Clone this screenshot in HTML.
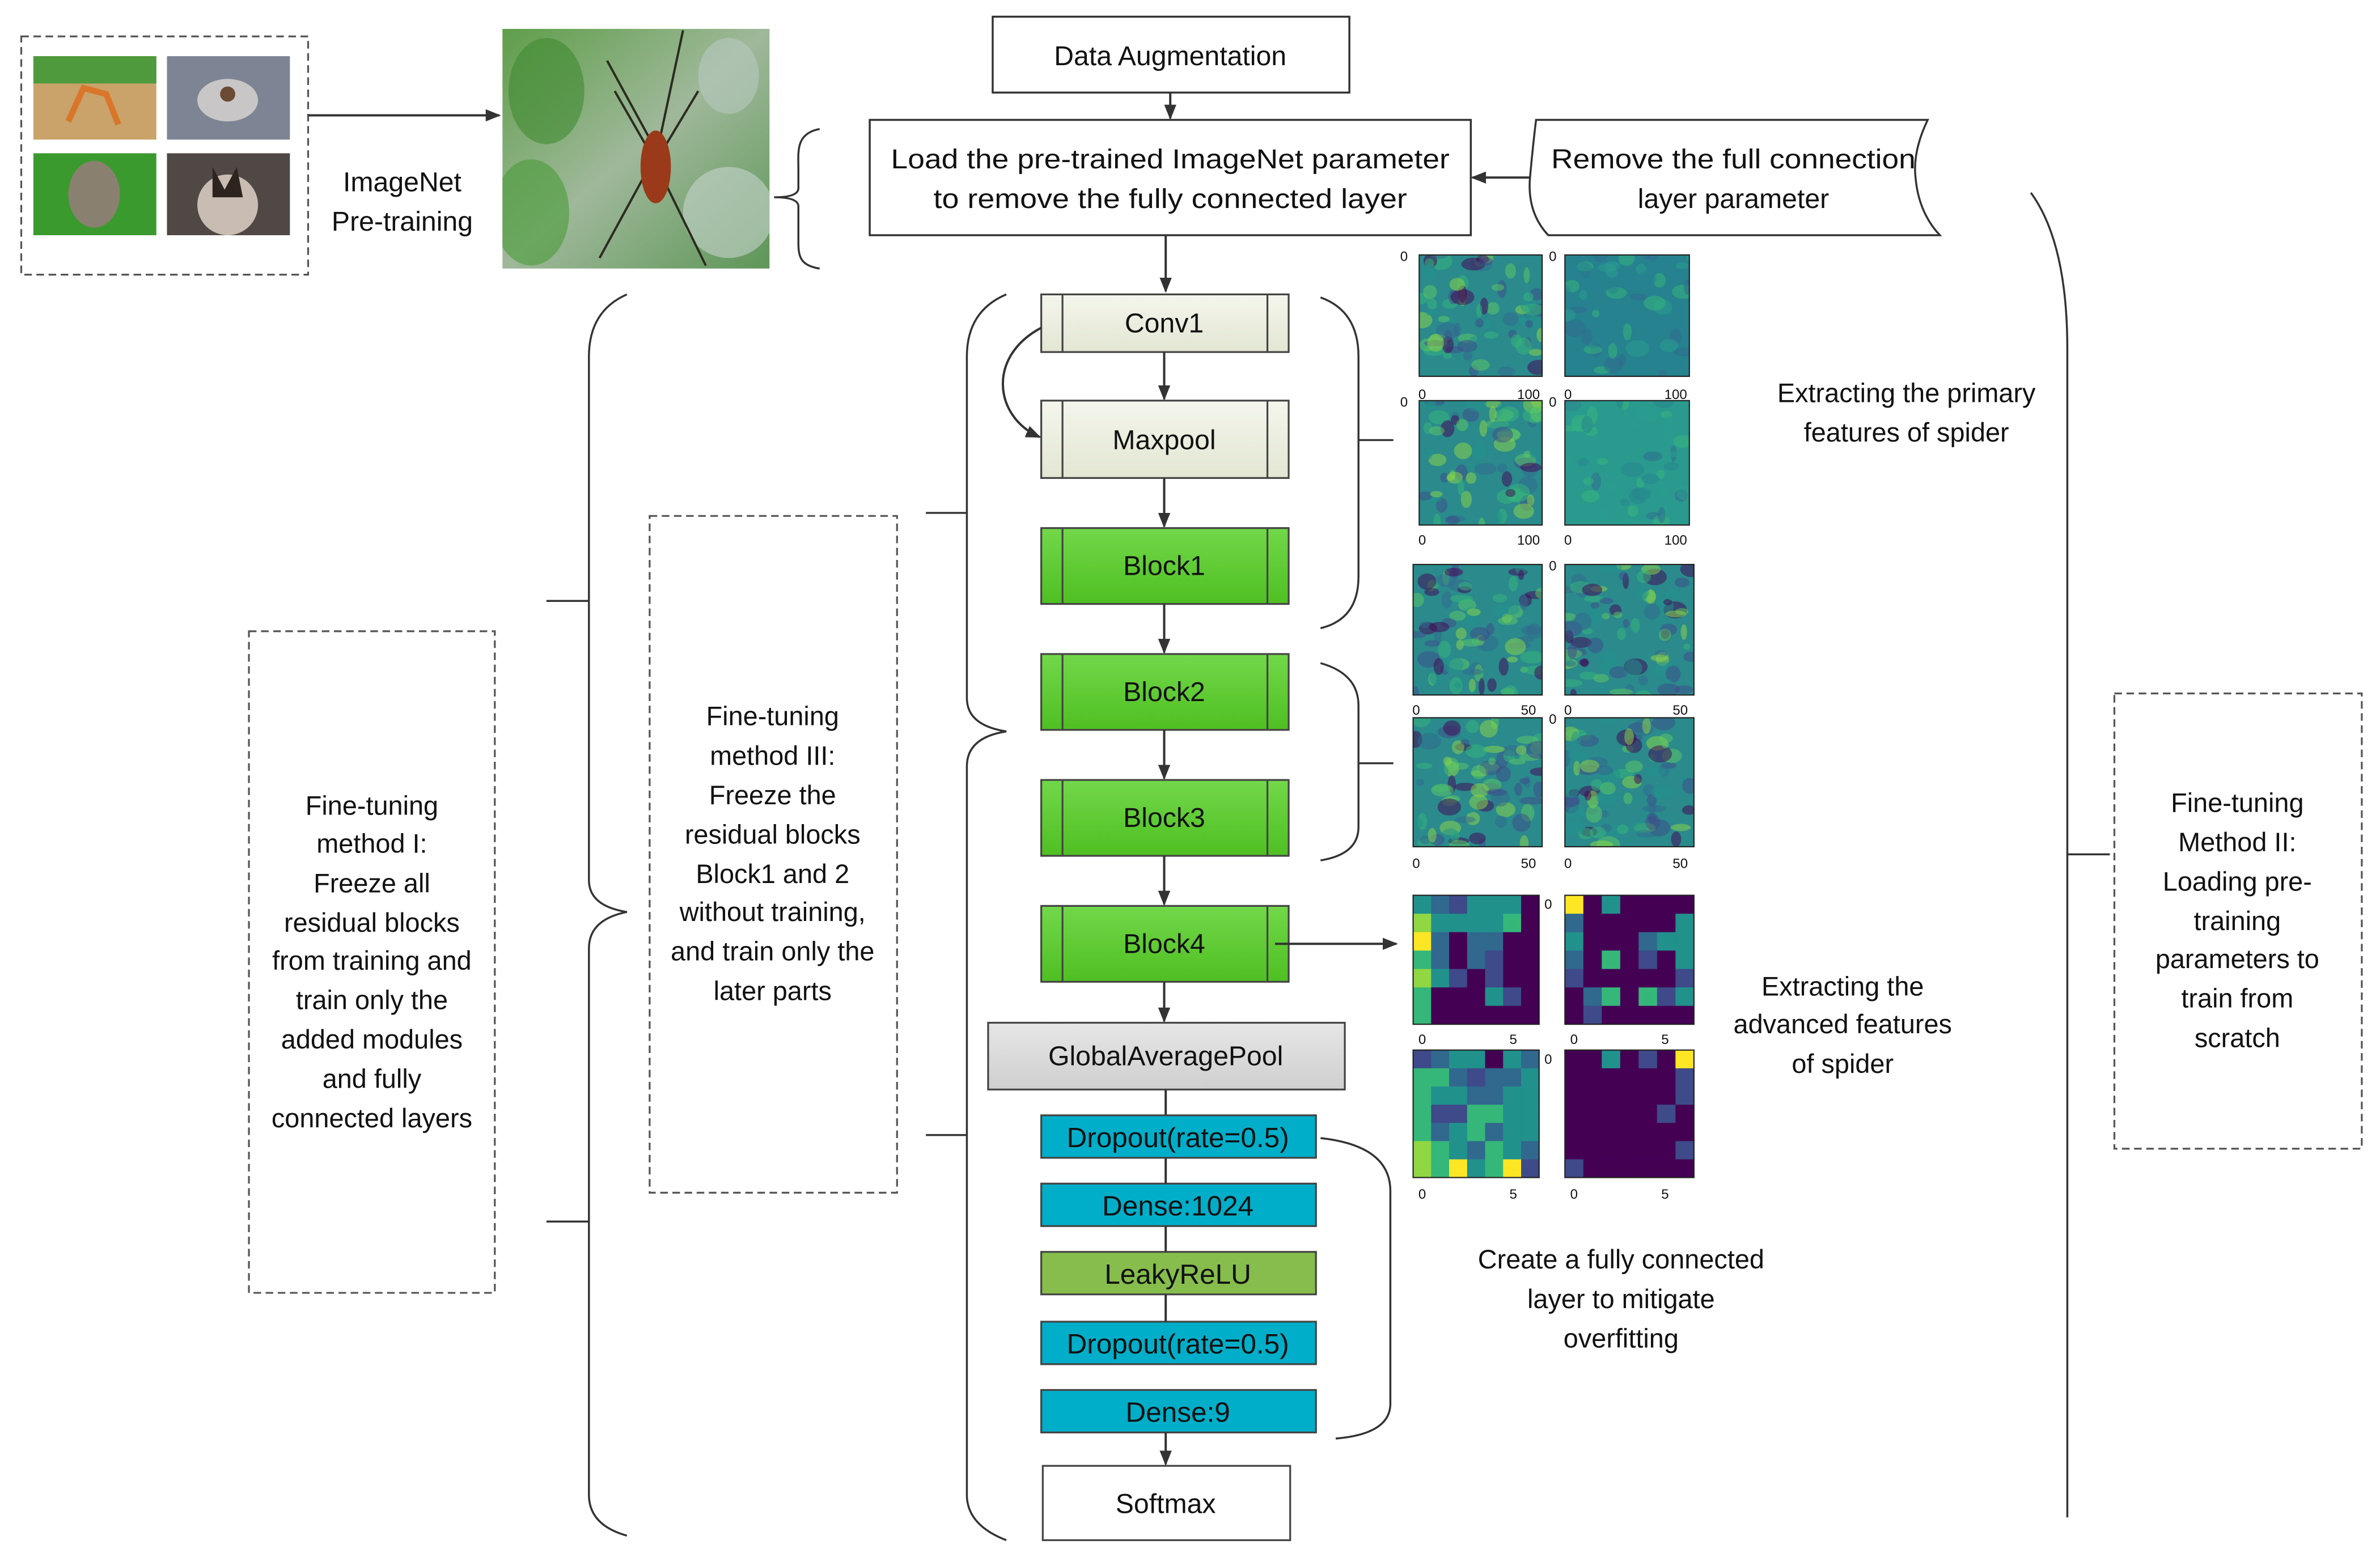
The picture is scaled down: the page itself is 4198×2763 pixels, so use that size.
<!DOCTYPE html>
<html><head><meta charset="utf-8"><style>
html,body{margin:0;padding:0;background:#fff;width:4198px;height:2763px;overflow:hidden}
svg{display:block}
text{font-family:"Liberation Sans",sans-serif;fill:#111}
</style></head><body>
<svg id="s" width="4198" height="2763" viewBox="0 0 1568 1032" xmlns="http://www.w3.org/2000/svg">
<defs>
<marker id="ah" markerWidth="10" markerHeight="10" refX="9" refY="5" orient="auto" markerUnits="userSpaceOnUse"><path d="M0,1 L10,5 L0,9 Z" fill="#333"/></marker>
<linearGradient id="gl" x1="0" y1="0" x2="0" y2="1"><stop offset="0" stop-color="#f4f6ec"/><stop offset="1" stop-color="#e2e6d2"/></linearGradient>
<linearGradient id="gg" x1="0" y1="0" x2="0" y2="1"><stop offset="0" stop-color="#72d84a"/><stop offset="1" stop-color="#4fbf22"/></linearGradient>
<linearGradient id="gy" x1="0" y1="0" x2="0" y2="1"><stop offset="0" stop-color="#e6e6e6"/><stop offset="1" stop-color="#cfcfcf"/></linearGradient>
<linearGradient id="sp" x1="0" y1="0" x2="1" y2="1"><stop offset="0" stop-color="#5f9e4a"/><stop offset="0.5" stop-color="#9fb89a"/><stop offset="1" stop-color="#5e9658"/></linearGradient>
<clipPath id="spc"><rect x="331" y="19" width="176" height="158"/></clipPath>
</defs>
<g fill="none" stroke="#333" stroke-width="1.2">
<rect x="14" y="24" width="189" height="157" stroke-dasharray="5,3" stroke="#555"/>
</g>
<rect x="22" y="37" width="81" height="55" fill="#c9a36a"/><rect x="22" y="37" width="81" height="18" fill="#4f9a3c"/>
<path d="M45,80 L55,58 L70,62 L78,82" stroke="#d9762a" stroke-width="4" fill="none"/>
<rect x="110" y="37" width="81" height="55" fill="#7d8595"/><ellipse cx="150" cy="66" rx="20" ry="14" fill="#c9c6c7"/><circle cx="150" cy="62" r="5" fill="#6b4a36"/>
<rect x="22" y="101" width="81" height="54" fill="#3a9a2e"/><ellipse cx="62" cy="128" rx="17" ry="22" fill="#8a8070"/>
<rect x="110" y="101" width="81" height="54" fill="#4f4845"/><ellipse cx="150" cy="135" rx="20" ry="20" fill="#c9bdb3"/><path d="M140,110 L148,125 L156,110 L160,130 L140,130 Z" fill="#2e241f"/>
<line x1="203" y1="76" x2="329" y2="76" stroke="#333" stroke-width="1.5" marker-end="url(#ah)"/>
<text x="265" y="126" font-size="18" text-anchor="middle">ImageNet</text>
<text x="265" y="152" font-size="18" text-anchor="middle">Pre-training</text>
<g clip-path="url(#spc)">
<rect x="331" y="19" width="176" height="158" fill="url(#sp)"/>
<ellipse cx="360" cy="60" rx="25" ry="35" fill="#3f8a30" opacity="0.6"/><ellipse cx="480" cy="140" rx="30" ry="30" fill="#c7d3cd" opacity="0.6"/><ellipse cx="350" cy="140" rx="25" ry="35" fill="#4a9b38" opacity="0.6"/><ellipse cx="480" cy="50" rx="20" ry="25" fill="#b8c9bf" opacity="0.6"/>
</g>
<g stroke="#2b2b20" stroke-width="1.5" fill="none"><path d="M430,95 L400,40"/><path d="M434,95 L450,20"/><path d="M425,115 L395,170"/><path d="M438,120 L465,175"/><path d="M428,100 L405,60"/><path d="M436,100 L460,60"/></g>
<ellipse cx="432" cy="110" rx="10" ry="24" fill="#9a3a1a"/>
<path d="M540,85 C524,88 526,100 526,112 L526,124 Q526,130 510,130 Q526,130 526,136 L526,160 C526,170 528,175 540,177" fill="none" stroke="#333" stroke-width="1.3"/>
<rect x="654" y="11" width="235" height="50" fill="#fff" stroke="#333" stroke-width="1.3"/>
<text x="771" y="43" font-size="18" text-anchor="middle">Data Augmentation</text>
<line x1="771" y1="61" x2="771" y2="78" stroke="#333" stroke-width="1.5" marker-end="url(#ah)"/>
<rect x="573" y="79" width="396" height="76" fill="#fff" stroke="#333" stroke-width="1.3"/>
<text x="771" y="111" font-size="18" text-anchor="middle" textLength="368" lengthAdjust="spacingAndGlyphs">Load the pre-trained ImageNet parameter</text>
<text x="771" y="137" font-size="18" text-anchor="middle" textLength="312" lengthAdjust="spacingAndGlyphs">to remove the fully connected layer</text>
<path d="M1012,79 L1270,79 Q1260,100 1262,117 Q1264,140 1278,155 L1020,155 Q1006,140 1008,117 Q1010,95 1012,79 Z" fill="#fff" stroke="#333" stroke-width="1.3"/>
<text x="1142" y="111" font-size="18" text-anchor="middle" textLength="240" lengthAdjust="spacingAndGlyphs">Remove the full connection</text>
<text x="1142" y="137" font-size="18" text-anchor="middle">layer parameter</text>
<line x1="1008" y1="117" x2="970" y2="117" stroke="#333" stroke-width="1.5" marker-end="url(#ah)"/>
<line x1="768" y1="155" x2="768" y2="192" stroke="#333" stroke-width="1.5" marker-end="url(#ah)"/>
<g stroke="#444" stroke-width="1.2">
<rect x="686" y="194" width="163" height="38" fill="url(#gl)"/>
<rect x="686" y="264" width="163" height="51" fill="url(#gl)"/>
<rect x="686" y="348" width="163" height="50" fill="url(#gg)"/>
<rect x="686" y="431" width="163" height="50" fill="url(#gg)"/>
<rect x="686" y="514" width="163" height="50" fill="url(#gg)"/>
<rect x="686" y="597" width="163" height="50" fill="url(#gg)"/>
<path d="M700,194v38M835,194v38M700,264v51M835,264v51M700,348v50M835,348v50M700,431v50M835,431v50M700,514v50M835,514v50M700,597v50M835,597v50" fill="none"/>
<rect x="651" y="674" width="235" height="44" fill="url(#gy)"/>
<rect x="686" y="735" width="181" height="28" fill="#00aec9"/>
<rect x="686" y="780" width="181" height="28" fill="#00aec9"/>
<rect x="686" y="825" width="181" height="28" fill="#86bd4c"/>
<rect x="686" y="871" width="181" height="28" fill="#00aec9"/>
<rect x="686" y="916" width="181" height="28" fill="#00aec9"/>
<rect x="687" y="966" width="163" height="49" fill="#fff"/>
</g>
<g font-size="18" text-anchor="middle">
<text x="767" y="219">Conv1</text>
<text x="767" y="296">Maxpool</text>
<text x="767" y="379">Block1</text>
<text x="767" y="462">Block2</text>
<text x="767" y="545">Block3</text>
<text x="767" y="628">Block4</text>
<text x="768" y="702">GlobalAveragePool</text>
<text x="776" y="756" font-size="18.5">Dropout(rate=0.5)</text>
<text x="776" y="801" font-size="18.5">Dense:1024</text>
<text x="776" y="846" font-size="18.5">LeakyReLU</text>
<text x="776" y="892" font-size="18.5">Dropout(rate=0.5)</text>
<text x="776" y="937" font-size="18.5">Dense:9</text>
<text x="768" y="997">Softmax</text>
</g>
<g stroke="#333" stroke-width="1.5" fill="none">
<line x1="767" y1="232" x2="767" y2="263" marker-end="url(#ah)"/>
<line x1="767" y1="315" x2="767" y2="347" marker-end="url(#ah)"/>
<line x1="767" y1="398" x2="767" y2="430" marker-end="url(#ah)"/>
<line x1="767" y1="481" x2="767" y2="513" marker-end="url(#ah)"/>
<line x1="767" y1="564" x2="767" y2="596" marker-end="url(#ah)"/>
<line x1="767" y1="647" x2="767" y2="673" marker-end="url(#ah)"/>
<line x1="768" y1="718" x2="768" y2="735"/>
<line x1="768" y1="763" x2="768" y2="780"/>
<line x1="768" y1="808" x2="768" y2="825"/>
<line x1="768" y1="853" x2="768" y2="871"/>
<line x1="768" y1="944" x2="768" y2="965" marker-end="url(#ah)"/>
<path d="M686,216 C650,235 655,275 685,288" marker-end="url(#ah)"/>
<line x1="840" y1="622" x2="920" y2="622" marker-end="url(#ah)"/>
</g>
<g stroke="#333" stroke-width="1.3" fill="none">
<path d="M870,196 Q895,205 895,235 L895,380 Q895,408 870,414"/><line x1="895" y1="290" x2="918" y2="290"/>
<path d="M870,437 Q895,444 895,465 L895,545 Q895,563 870,567"/><line x1="895" y1="503" x2="918" y2="503"/>
<path d="M870,750 Q916,755 916,785 L916,925 Q916,945 880,948"/>
<path d="M663,194 Q637,205 637,235 L637,460 Q637,478 663,482 Q637,486 637,505 L637,985 Q637,1005 663,1015"/>
<line x1="610" y1="338" x2="637" y2="338"/><line x1="610" y1="748" x2="637" y2="748"/>
<path d="M413,194 Q388,205 388,235 L388,580 Q388,597 413,601 Q388,606 388,625 L388,985 Q388,1005 413,1012"/>
<line x1="360" y1="396" x2="388" y2="396"/><line x1="360" y1="805" x2="388" y2="805"/>
<path d="M1338,127 Q1362,160 1362,230 L1362,1000"/>
<line x1="1362" y1="563" x2="1390" y2="563"/>
</g>
<g fill="none" stroke="#555" stroke-width="1.2" stroke-dasharray="5,3">
<rect x="164" y="416" width="162" height="436"/>
<rect x="428" y="340" width="163" height="446"/>
<rect x="1393" y="457" width="163" height="300"/>
</g>
<g font-size="17.5" text-anchor="middle">
<text x="245" y="537">Fine-tuning</text><text x="245" y="562">method I:</text><text x="245" y="588">Freeze all</text><text x="245" y="614">residual blocks</text><text x="245" y="639">from training and</text><text x="245" y="665">train only the</text><text x="245" y="691">added modules</text><text x="245" y="717">and fully</text><text x="245" y="743">connected layers</text>
<text x="509" y="478">Fine-tuning</text><text x="509" y="504">method III:</text><text x="509" y="530">Freeze the</text><text x="509" y="556">residual blocks</text><text x="509" y="582">Block1 and 2</text><text x="509" y="607">without training,</text><text x="509" y="633">and train only the</text><text x="509" y="659">later parts</text>
<text x="1474" y="535">Fine-tuning</text><text x="1474" y="561">Method II:</text><text x="1474" y="587">Loading pre-</text><text x="1474" y="613">training</text><text x="1474" y="638">parameters to</text><text x="1474" y="664">train from</text><text x="1474" y="690">scratch</text>
<text x="1256" y="265">Extracting the primary</text><text x="1256" y="291">features of spider</text>
<text x="1214" y="656">Extracting the</text><text x="1214" y="681">advanced features</text><text x="1214" y="707">of spider</text>
<text x="1068" y="836">Create a fully connected</text><text x="1068" y="862">layer to mitigate</text><text x="1068" y="888">overfitting</text>
</g>
<g id="maps"></g>
<g font-size="9" fill="#333" text-anchor="middle">
<text x="937" y="263">0</text><text x="1007" y="263">100</text><text x="1033" y="263">0</text><text x="1104" y="263">100</text>
<text x="937" y="359">0</text><text x="1007" y="359">100</text><text x="1033" y="359">0</text><text x="1104" y="359">100</text>
<text x="933" y="471">0</text><text x="1007" y="471">50</text><text x="1033" y="471">0</text><text x="1107" y="471">50</text>
<text x="933" y="572">0</text><text x="1007" y="572">50</text><text x="1033" y="572">0</text><text x="1107" y="572">50</text>
<text x="937" y="688">0</text><text x="997" y="688">5</text><text x="1037" y="688">0</text><text x="1097" y="688">5</text>
<text x="937" y="790">0</text><text x="997" y="790">5</text><text x="1037" y="790">0</text><text x="1097" y="790">5</text>
<text x="925" y="172">0</text><text x="1023" y="172">0</text><text x="925" y="268">0</text><text x="1023" y="268">0</text>
<text x="1023" y="376">0</text><text x="1023" y="477">0</text><text x="1020" y="599">0</text><text x="1020" y="701">0</text>
</g>
</svg>
<script>
(function(){
var P={p:"#440154",d:"#3e4a89",b:"#31688e",t:"#21918c",g:"#35b779",l:"#90d743",y:"#fde725"};
var root=document.getElementById("maps"),NS="http://www.w3.org/2000/svg";
function mk(tag,attrs,parent){var e=document.createElementNS(NS,tag);for(var k in attrs)e.setAttribute(k,attrs[k]);parent.appendChild(e);return e;}
var seed=7;function rnd(){seed=(seed*9301+49297)%233280;return seed/233280;}
function tex(x,y,w,h,base,n,vivid){var s=mk("svg",{x:x,y:y,width:w,height:h,overflow:"hidden"},root);
mk("rect",{x:0,y:0,width:w,height:h,fill:base},s);
var cols=vivid?["#35b779","#90d743","#31688e","#3e4a89","#440154","#21918c","#5ec962"]:["#2a9d8f","#31688e","#35b779","#26828e"];
for(var i=0;i<n;i++){mk("ellipse",{cx:rnd()*w,cy:rnd()*h,rx:2+rnd()*6,ry:2+rnd()*4,fill:cols[Math.floor(rnd()*cols.length)],opacity:0.5},s);}
mk("rect",{x:x,y:y,width:w,height:h,fill:"none",stroke:"#222","stroke-width":0.8},root);}
tex(935,168,81,80,"#2a8a8c",70,true);tex(1031,168,82,80,"#26828e",50,false);
tex(935,264,81,82,"#2a8a8c",70,true);tex(1031,264,82,82,"#2a9a8e",50,false);
tex(931,372,85,86,"#2a8a8c",80,true);tex(1031,372,85,86,"#2a8a8c",80,true);
tex(931,473,85,85,"#2a8a8c",80,true);tex(1031,473,85,85,"#2a8a8c",80,true);
function grid(x,y,w,h,rows){var cw=w/7,ch=h/7;rows.forEach(function(s,i){for(var j=0;j<7;j++)mk("rect",{x:x+j*cw,y:y+i*ch,width:cw+0.3,height:ch+0.3,fill:P[s[j]]},root);});mk("rect",{x:x,y:y,width:w,height:h,fill:"none",stroke:"#222","stroke-width":0.8},root);}
grid(931,590,83,85,["tbdtttp","lttttgp","ybpbbpp","gbpbdpp","ltdpdpp","gppptdp","gpppppp"]);
grid(1031,590,85,85,["yptpppp","bpppppt","tpppbtt","bpgpdpt","dpppppd","pbgpgdt","pdppppp"]);
grid(931,692,83,84,["dbttptb","ggbdbbt","gttbbtt","gddggtt","gbtgbtt","lgtbgtb","lgytgyd"]);
grid(1031,692,85,84,["pptpdpy","ppppppd","ppppppd","pppppdp","ppppppp","ppppppd","dpppppp"]);
})();
</script>
</body></html>
